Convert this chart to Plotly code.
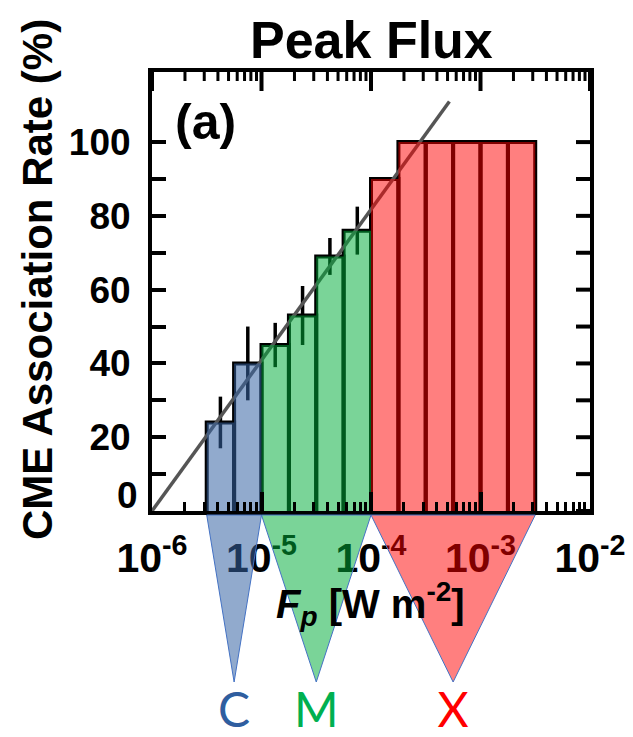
import numpy as np
import plotly.graph_objects as go

# ---------------- data ----------------
bin_edges = [3.16e-6, 5.62e-6, 1.0e-5, 1.78e-5, 3.16e-5, 5.62e-5, 1.0e-4,
             1.78e-4, 3.16e-4, 5.62e-4, 1.0e-3, 1.78e-3, 3.16e-3]
rates = [24, 40, 45, 53, 69, 76, 90, 100, 100, 100, 100, 100]
errors = [7, 10, 6, 8, 5, 6.5, 0, 0, 0, 0, 0, 0]
classes = ["C", "M", "X"]
class_bins = [(0, 2), (2, 6), (6, 12)]
fit_x = [1e-6, 5.2e-4]
fit_y = [0, 111]
x_tickvals = [1e-6, 1e-5, 1e-4, 1e-3, 1e-2]
x_ticktext = ["10<sup>-6</sup>", "10<sup>-5</sup>", "10<sup>-4</sup>",
              "10<sup>-3</sup>", "10<sup>-2</sup>"]
y_tickvals = [0, 20, 40, 60, 80, 100]
y_ticktext = ["", "20", "40", "60", "80", "100"]
y_minor = [10, 30, 50, 70, 90]

# ---------------- styles ----------------
overlay_fill = ["rgba(55,100,164,0.55)", "rgba(0,173,58,0.52)", "rgba(255,0,0,0.5)"]
letter_col = ["#2F5E9F", "#00B050", "#FF0000"]
FONT = "Liberation Sans, Arial, sans-serif"

H, W = 737, 633
ML, MR, MT, MB = 152, 43, 72, 0
plot_h = H - MT - MB
frame_bottom_px = 511
ydom_bottom = (H - frame_bottom_px) / plot_h
lower_h = H - MB - frame_bottom_px
XR = [-6, -2]
YR = [0, 119]
X_MAJ_LEN, X_MIN_LEN, Y_LEN = 19, 9, 14


def py(p):
    """pixel (from top) -> paper y"""
    return (H - p) / plot_h


def px(p):
    return (p - ML) / (W - ML - MR)


fig = go.Figure()

# black outlined bars
ox, oy = [], []
for i, v in enumerate(rates):
    l, r = bin_edges[i], bin_edges[i + 1]
    ox += [l, l, r, r, None]
    oy += [0, v, v, 0, None]
fig.add_trace(go.Scatter(x=ox, y=oy, mode="lines", line=dict(color="black", width=4),
                         hoverinfo="skip", showlegend=False))

# error bars
centers = [np.sqrt(bin_edges[i] * bin_edges[i + 1]) for i in range(len(rates))]
fig.add_trace(go.Scatter(x=centers, y=rates, mode="markers",
                         marker=dict(size=1, opacity=0),
                         error_y=dict(type="data", array=errors, visible=True,
                                      color="black", thickness=3.5, width=0),
                         hoverinfo="skip", showlegend=False))

# fit line
fig.add_trace(go.Scatter(x=fit_x, y=fit_y, mode="lines",
                         line=dict(color="#555555", width=3.5),
                         hoverinfo="skip", showlegend=False))

# translucent class overlays
for k, (a, b) in enumerate(class_bins):
    xs, ys = [bin_edges[a]], [0]
    for i in range(a, b):
        xs += [bin_edges[i], bin_edges[i + 1]]
        ys += [rates[i], rates[i]]
    xs += [bin_edges[b], bin_edges[a]]
    ys += [0, 0]
    fig.add_trace(go.Scatter(x=xs, y=ys, mode="lines", fill="toself",
                             fillcolor=overlay_fill[k], line=dict(width=0),
                             hoverinfo="skip", showlegend=False))

# triangles and letters (lower panel)
tri_top, tri_apex, letter_y = 4, 171, 204
lx = []
for k, (a, b) in enumerate(class_bins):
    l, r = bin_edges[a], bin_edges[b]
    c = np.sqrt(l * r)
    lx.append(c)
    fig.add_trace(go.Scatter(x=[l, r, c, l], y=[tri_top, tri_top, tri_apex, tri_top],
                             mode="lines", fill="toself", fillcolor=overlay_fill[k],
                             line=dict(color="#4472C4", width=1),
                             xaxis="x2", yaxis="y2", hoverinfo="skip", showlegend=False))
fig.add_trace(go.Scatter(x=lx, y=[letter_y] * 3, mode="text", text=classes,
                         textposition="middle center",
                         textfont=dict(family="Lato, sans-serif", size=48,
                                       color=letter_col, weight="normal"),
                         cliponaxis=False, xaxis="x2", yaxis="y2",
                         hoverinfo="skip", showlegend=False))

minor_x = [m * 10.0 ** e for e in range(-6, -2) for m in range(2, 10)]

fig.update_layout(
    width=W, height=H,
    margin=dict(l=ML, r=MR, t=MT, b=MB, pad=0),
    plot_bgcolor="white", paper_bgcolor="white",
    font=dict(family=FONT, color="black", weight="bold"),
    showlegend=False,
    xaxis=dict(type="log", range=XR, domain=[0, 1], anchor="y", side="bottom",
               showline=True, linecolor="black", linewidth=4, mirror=True,
               ticks="inside", ticklen=X_MAJ_LEN, tickwidth=4, tickcolor="black",
               tickmode="array", tickvals=x_tickvals, ticktext=x_ticktext,
               tickfont=dict(size=41, family=FONT, weight="bold"),
               ticklabelstandoff=8,
               minor=dict(ticks="inside", ticklen=X_MIN_LEN, tickwidth=3,
                          tickcolor="black", tickmode="array", tickvals=minor_x,
                          showgrid=False),
               showgrid=False, zeroline=False),
    yaxis=dict(range=YR, domain=[ydom_bottom, 1], anchor="x", side="left",
               showline=True, linecolor="black", linewidth=4, mirror=True,
               ticks="inside", ticklen=Y_LEN, tickwidth=4, tickcolor="black",
               tickmode="array", tickvals=y_tickvals, ticktext=y_ticktext,
               tickfont=dict(size=37, family=FONT, weight="bold"),
               ticklabelstandoff=10,
               minor=dict(ticks="inside", ticklen=Y_LEN, tickwidth=4, tickcolor="black",
                          tickmode="array", tickvals=y_minor, showgrid=False),
               showgrid=False, zeroline=False),
    xaxis2=dict(type="log", range=XR, domain=[0, 1], anchor="y2", visible=False),
    yaxis2=dict(range=[lower_h, 0], domain=[0, ydom_bottom], anchor="x2", visible=False),
)

# mirrored ticks on the top and right frame edges
shapes = []
for v, ln, lw in ([(t, X_MAJ_LEN, 4) for t in x_tickvals] +
                  [(t, X_MIN_LEN, 3) for t in minor_x]):
    f = (np.log10(v) - XR[0]) / (XR[1] - XR[0])
    shapes.append(dict(type="line", xref="x domain", yref="y domain",
                       x0=f, x1=f, ysizemode="pixel", yanchor=1, y0=0, y1=-ln,
                       line=dict(color="black", width=lw), layer="above"))
for v in y_tickvals + y_minor:
    shapes.append(dict(type="line", xref="x domain", yref="y",
                       y0=v, y1=v, xsizemode="pixel", xanchor=1, x0=0, x1=-Y_LEN,
                       line=dict(color="black", width=4), layer="above"))
fig.update_layout(shapes=shapes)

fig.add_annotation(text="Peak Flux", xref="paper", yref="paper", x=0.5, y=py(40),
                   xanchor="center", yanchor="middle", showarrow=False,
                   font=dict(size=52, family=FONT, weight="bold"))
fig.add_annotation(text="(a)", xref="paper", yref="paper", x=px(173), y=py(122),
                   xanchor="left", yanchor="middle", showarrow=False,
                   font=dict(size=50, family=FONT, weight="bold"))
fig.add_annotation(text="CME Association Rate (%)", xref="paper", yref="paper",
                   x=px(37), y=py(280), textangle=-90, xanchor="center", yanchor="middle",
                   showarrow=False, font=dict(size=42, family=FONT, weight="bold"))
fig.add_annotation(text="<i>F</i><sub><i>p</i></sub> [W m<sup>-2</sup>]",
                   xref="paper", yref="paper", x=px(370), y=py(604),
                   xanchor="center", yanchor="middle", showarrow=False,
                   font=dict(size=40, family=FONT, weight="bold"))
fig.add_annotation(text="0", xref="paper", yref="y", x=0, y=0, xshift=-12, yshift=16,
                   xanchor="right", yanchor="middle", showarrow=False,
                   font=dict(size=37, family=FONT, weight="bold"))

fig.write_html("out.html")
